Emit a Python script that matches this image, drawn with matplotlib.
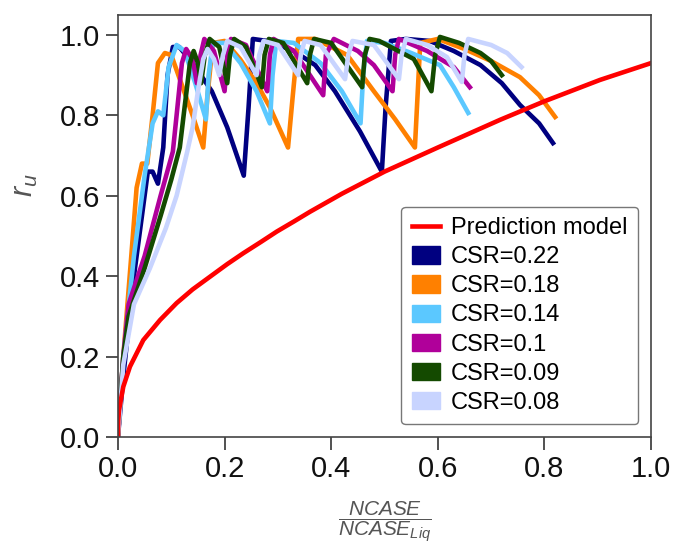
import matplotlib.pyplot as plt
import matplotlib.patches as mpatches
from matplotlib.lines import Line2D

plt.rcParams['font.family'] = ['Liberation Sans', 'DejaVu Sans']
plt.rcParams['mathtext.fontset'] = 'custom'
plt.rcParams['mathtext.it'] = 'Liberation Sans:italic'
plt.rcParams['mathtext.rm'] = 'Liberation Sans'

# prediction model
pred_x = [0, 0.0005, 0.002, 0.01, 0.0225, 0.0475, 0.079, 0.11, 0.14, 0.173, 0.205,
          0.235, 0.268, 0.298, 0.33, 0.36, 0.42, 0.5, 0.6, 0.717, 0.8, 0.904, 1.0]
pred_y = [0, 0.04, 0.067, 0.125, 0.175, 0.241, 0.291, 0.333, 0.367, 0.399, 0.43,
          0.457, 0.485, 0.511, 0.536, 0.56, 0.605, 0.66, 0.72, 0.789, 0.835, 0.888, 0.93]

# CSR = 0.22
x22 = [0, 0.01, 0.03, 0.045, 0.056, 0.065, 0.075, 0.085, 0.093, 0.103, 0.115, 0.14,
       0.176, 0.205, 0.236, 0.245, 0.253, 0.28, 0.33, 0.37, 0.407, 0.454, 0.495,
       0.502, 0.512, 0.54, 0.585, 0.63, 0.68, 0.72, 0.754, 0.79, 0.816]
y22 = [0, 0.15, 0.4, 0.55, 0.66, 0.66, 0.63, 0.72, 0.9, 0.97, 0.97, 0.93,
       0.86, 0.77, 0.65, 0.82, 0.99, 0.985, 0.96, 0.925, 0.86, 0.76, 0.66,
       0.82, 0.985, 0.99, 0.985, 0.96, 0.925, 0.88, 0.826, 0.78, 0.731]

# CSR = 0.18
x18 = [0, 0.01, 0.025, 0.035, 0.045, 0.055, 0.065, 0.075, 0.088, 0.1, 0.12, 0.14,
       0.16, 0.168, 0.178, 0.2, 0.229, 0.26, 0.285, 0.319, 0.328, 0.338, 0.37,
       0.43, 0.48, 0.52, 0.557, 0.562, 0.567, 0.6, 0.65, 0.7, 0.754, 0.79, 0.82]
y18 = [0, 0.2, 0.45, 0.62, 0.68, 0.68, 0.8, 0.93, 0.955, 0.95, 0.875, 0.8,
       0.72, 0.85, 0.98, 0.985, 0.94, 0.88, 0.82, 0.72, 0.85, 0.99, 0.99,
       0.95, 0.86, 0.79, 0.72, 0.85, 0.98, 0.99, 0.965, 0.935, 0.895, 0.85, 0.796]

# CSR = 0.14
x14 = [0, 0.01, 0.03, 0.05, 0.065, 0.075, 0.085, 0.095, 0.11, 0.125, 0.145, 0.165,
       0.17, 0.178, 0.2, 0.23, 0.26, 0.285, 0.29, 0.297, 0.33, 0.38, 0.42, 0.455,
       0.46, 0.467, 0.5, 0.55, 0.604, 0.63, 0.657]
y14 = [0, 0.2, 0.45, 0.65, 0.78, 0.81, 0.8, 0.92, 0.975, 0.96, 0.88, 0.79,
       0.9, 0.98, 0.98, 0.93, 0.86, 0.78, 0.9, 0.985, 0.98, 0.93, 0.86, 0.78,
       0.9, 0.985, 0.98, 0.955, 0.925, 0.87, 0.806]

# CSR = 0.1
x10 = [0, 0.01, 0.02, 0.05, 0.08, 0.103, 0.11, 0.12, 0.128, 0.14, 0.148, 0.155,
       0.162, 0.18, 0.2, 0.205, 0.212, 0.24, 0.28, 0.285, 0.292, 0.33, 0.385,
       0.39, 0.405, 0.45, 0.48, 0.515, 0.52, 0.527, 0.58, 0.63, 0.66]
y10 = [0, 0.2, 0.33, 0.45, 0.6, 0.71, 0.8, 0.93, 0.965, 0.94, 0.88, 0.95,
       0.99, 0.96, 0.86, 0.95, 0.99, 0.975, 0.86, 0.95, 0.99, 0.96, 0.85,
       0.95, 0.99, 0.96, 0.925, 0.86, 0.95, 0.99, 0.96, 0.92, 0.87]

# CSR = 0.09
x09 = [0, 0.01, 0.02, 0.05, 0.08, 0.1, 0.116, 0.125, 0.135, 0.142, 0.15, 0.156,
       0.163, 0.172, 0.19, 0.205, 0.21, 0.218, 0.24, 0.27, 0.275, 0.283, 0.31,
       0.355, 0.36, 0.368, 0.4, 0.458, 0.463, 0.472, 0.49, 0.555, 0.588, 0.595,
       0.604, 0.64, 0.68, 0.7, 0.72]
y09 = [0, 0.2, 0.3, 0.42, 0.55, 0.64, 0.72, 0.82, 0.93, 0.96, 0.93, 0.88,
       0.95, 0.99, 0.97, 0.88, 0.95, 0.99, 0.97, 0.87, 0.95, 0.99, 0.98,
       0.88, 0.95, 0.99, 0.98, 0.87, 0.95, 0.99, 0.985, 0.94, 0.86, 0.95,
       0.995, 0.98, 0.955, 0.935, 0.9]

# CSR = 0.08
x08 = [0, 0.01, 0.03, 0.06, 0.09, 0.11, 0.13, 0.14, 0.15, 0.16, 0.168, 0.18,
       0.19, 0.197, 0.205, 0.23, 0.26, 0.265, 0.273, 0.3, 0.338, 0.343, 0.35,
       0.38, 0.426, 0.432, 0.44, 0.48, 0.527, 0.532, 0.54, 0.58, 0.617, 0.645,
       0.65, 0.657, 0.7, 0.73, 0.757]
y08 = [0, 0.18, 0.33, 0.42, 0.52, 0.6, 0.71, 0.77, 0.86, 0.94, 0.965, 0.94,
       0.9, 0.95, 0.985, 0.97, 0.9, 0.95, 0.985, 0.975, 0.9, 0.95, 0.985,
       0.975, 0.89, 0.95, 0.985, 0.975, 0.89, 0.95, 0.99, 0.975, 0.945, 0.883,
       0.95, 0.99, 0.975, 0.955, 0.92]

csr_labels = ['CSR=0.22', 'CSR=0.18', 'CSR=0.14', 'CSR=0.1', 'CSR=0.09', 'CSR=0.08']
csr_colors = ['#000080', '#FF8000', '#5BC8FF', '#B0009A', '#144A00', '#C8D4FF']
csr_x = [x22, x18, x14, x10, x09, x08]
csr_y = [y22, y18, y14, y10, y09, y08]

fig = plt.figure(figsize=(6.74, 5.49), dpi=100)
ax = fig.add_axes([0.175, 0.204, 0.791, 0.769])

for xs, ys, c in zip(csr_x, csr_y, csr_colors):
    ax.plot(xs, ys, color=c, lw=3.3, solid_joinstyle='round')
ax.plot(pred_x, pred_y, color='#FF0000', lw=3.3)

ax.set_xlim(0, 1.0)
ax.set_ylim(0, 1.05)
ax.set_xticks([0, 0.2, 0.4, 0.6, 0.8, 1.0])
ax.set_yticks([0, 0.2, 0.4, 0.6, 0.8, 1.0])
ax.tick_params(labelsize=21, length=9, width=1.2, pad=4, colors='#333333',
               labelcolor='#111111')
for s in ax.spines.values():
    s.set_color('#444444')
    s.set_linewidth(1.2)

ax.set_ylabel('$r_u$', fontsize=22, color='#555555')
ax.yaxis.set_label_coords(-0.146, 0.597)
ax.set_xlabel(r'$\dfrac{NCASE}{NCASE_{Liq}}$', fontsize=15, color='#555555')
ax.xaxis.set_label_coords(0.5, -0.15)

handles = [Line2D([0], [0], color='#FF0000', lw=3.3, label='Prediction model')]
for lab, c in zip(csr_labels, csr_colors):
    handles.append(mpatches.Patch(facecolor=c, edgecolor=c, label=lab))
ax.legend(handles=handles, loc='lower right', fontsize=17, frameon=True,
          edgecolor='#555555', fancybox=True, handlelength=1.2, handleheight=0.76,
          handletextpad=0.47, labelspacing=0.3, borderpad=0.45, borderaxespad=0,
          bbox_to_anchor=(0.976, 0.03))

plt.savefig('out.png', dpi=100)
